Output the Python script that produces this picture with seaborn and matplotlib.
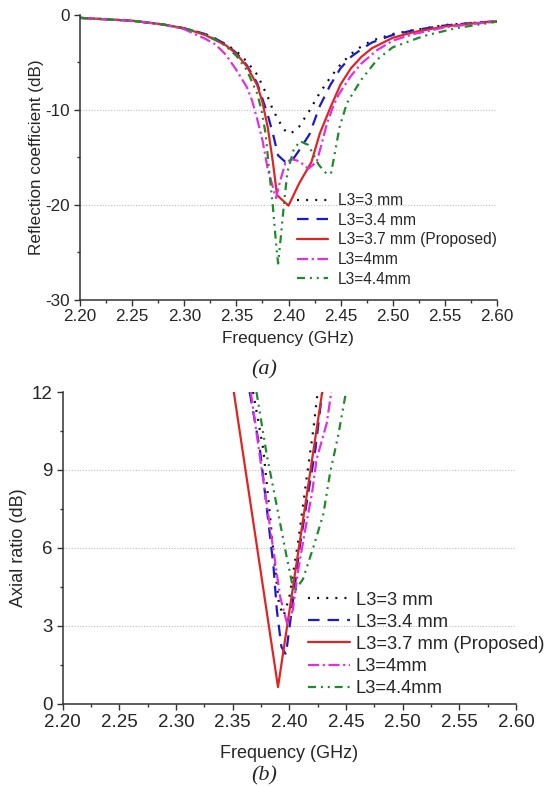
import numpy as np
import pandas as pd
import matplotlib
matplotlib.use("Agg")
import matplotlib.pyplot as plt
from matplotlib.ticker import MultipleLocator, FormatStrFormatter
import seaborn as sns

sns.set_style("ticks")
plt.rcParams['font.family'] = ['Liberation Sans', 'DejaVu Sans']
plt.rcParams['axes.unicode_minus'] = False

# --- (a) reflection coefficient ---
f_s11_3 = [2.20, 2.25, 2.28, 2.30, 2.32, 2.33, 2.34, 2.35, 2.36, 2.37, 2.38, 2.385, 2.39, 2.395, 2.40,
           2.405, 2.41, 2.42, 2.43, 2.44, 2.45, 2.46, 2.47, 2.48, 2.50, 2.52, 2.55, 2.58, 2.60]
s11_3 = [-0.3, -0.6, -1.0, -1.4, -2.0, -2.5, -3.1, -3.8, -4.9, -6.3, -8.6, -10.0, -11.0, -12.0, -12.5,
         -12.3, -11.8, -10.1, -8.2, -6.6, -5.2, -4.1, -3.3, -2.7, -2.0, -1.6, -1.05, -0.8, -0.65]

f_s11_34 = [2.20, 2.25, 2.28, 2.30, 2.32, 2.33, 2.34, 2.35, 2.36, 2.37, 2.38, 2.385, 2.39, 2.397, 2.405,
            2.41, 2.42, 2.43, 2.44, 2.45, 2.46, 2.47, 2.48, 2.50, 2.52, 2.55, 2.58, 2.60]
s11_34 = [-0.3, -0.6, -1.0, -1.4, -2.0, -2.5, -3.1, -4.0, -5.3, -7.2, -10.5, -12.5, -14.8, -15.5, -15.1,
          -14.3, -12.6, -9.6, -7.4, -5.6, -4.4, -3.6, -2.9, -2.1, -1.6, -1.1, -0.8, -0.65]

f_s11_37 = [2.20, 2.25, 2.28, 2.30, 2.32, 2.34, 2.35, 2.36, 2.37, 2.375, 2.38, 2.385, 2.389, 2.40,
            2.41, 2.422, 2.43, 2.44, 2.45, 2.46, 2.47, 2.48, 2.50, 2.52, 2.55, 2.58, 2.60]
s11_37 = [-0.3, -0.6, -1.0, -1.4, -2.1, -3.2, -4.1, -5.4, -7.4, -9.2, -11.8, -15.5, -19.0, -20.1,
          -17.8, -15.5, -12.5, -9.8, -7.3, -5.6, -4.4, -3.5, -2.4, -1.8, -1.2, -0.85, -0.65]

f_s11_4 = [2.20, 2.25, 2.28, 2.30, 2.32, 2.33, 2.34, 2.35, 2.36, 2.365, 2.37, 2.375, 2.38, 2.388, 2.392,
           2.397, 2.403, 2.41, 2.419, 2.427, 2.432, 2.437, 2.443, 2.448, 2.46, 2.47, 2.485, 2.50, 2.52,
           2.55, 2.58, 2.60]
s11_4 = [-0.3, -0.6, -1.0, -1.5, -2.5, -3.1, -4.2, -5.8, -7.6, -9.0, -11.0, -13.2, -16.2, -19.3, -17.5,
         -15.6, -15.2, -15.4, -16.2, -15.5, -13.5, -11.4, -9.6, -8.4, -6.4, -5.1, -3.7, -2.7, -2.0,
         -1.3, -0.9, -0.7]

f_s11_44 = [2.20, 2.25, 2.28, 2.30, 2.32, 2.33, 2.34, 2.35, 2.36, 2.37, 2.374, 2.378, 2.382, 2.385, 2.388,
            2.39, 2.393, 2.396, 2.399, 2.405, 2.411, 2.419, 2.429, 2.437, 2.441, 2.449, 2.456, 2.462,
            2.47, 2.485, 2.50, 2.53, 2.56, 2.60]
s11_44 = [-0.3, -0.6, -1.0, -1.4, -2.0, -2.6, -3.3, -4.3, -5.8, -8.3, -10.0, -12.5, -17.0, -20.2, -24.0,
          -26.2, -23.0, -19.5, -16.5, -14.2, -13.3, -13.7, -15.8, -16.8, -16.6, -11.8, -9.3, -8.2,
          -6.8, -4.7, -3.4, -2.2, -1.4, -0.7]

# --- (b) axial ratio ---
f_ar_3 = [2.368, 2.377, 2.383, 2.387, 2.391, 2.395, 2.40, 2.408, 2.415, 2.421, 2.425]
ar_3 = [12.0, 9.8, 7.2, 5.4, 3.8, 3.4, 4.1, 6.3, 8.6, 10.5, 12.0]

f_ar_34 = [2.365, 2.374, 2.381, 2.386, 2.389, 2.393, 2.397, 2.403, 2.409, 2.417, 2.423, 2.429]
ar_34 = [12.0, 9.8, 7.2, 5.3, 3.6, 2.2, 1.9, 3.9, 6.0, 8.2, 9.8, 12.0]

f_ar_37 = [2.351, 2.390, 2.429]
ar_37 = [12.0, 0.65, 12.0]

f_ar_4 = [2.366, 2.375, 2.386, 2.392, 2.398, 2.403, 2.408, 2.414, 2.42, 2.424, 2.433, 2.437]
ar_4 = [12.0, 9.2, 5.9, 4.1, 3.1, 3.6, 5.2, 6.7, 8.1, 9.4, 10.8, 12.0]

f_ar_44 = [2.371, 2.380, 2.389, 2.397, 2.404, 2.412, 2.421, 2.43, 2.436, 2.443, 2.450]
ar_44 = [12.0, 9.6, 7.6, 5.8, 4.3, 4.8, 6.0, 7.3, 8.9, 10.3, 12.0]

labels = ["L3=3 mm", "L3=3.4 mm", "L3=3.7 mm (Proposed)", "L3=4mm", "L3=4.4mm"]
colors = ["#111111", "#1a1acc", "#e02424", "#e030e0", "#1f8a2a"]
styles = [(0, (0.9, 3.2)), (0, (5.2, 3.6)), "-", (0, (5, 1.6, 1, 1.6)),
          (0, (3.6, 2.2, 0.9, 2.2, 0.9, 2.2))]

top = [(f_s11_3, s11_3), (f_s11_34, s11_34), (f_s11_37, s11_37), (f_s11_4, s11_4), (f_s11_44, s11_44)]
bottom = [(f_ar_3, ar_3), (f_ar_34, ar_34), (f_ar_37, ar_37), (f_ar_4, ar_4), (f_ar_44, ar_44)]

fig = plt.figure(figsize=(5.47, 7.87), dpi=100)
ax1 = fig.add_axes([0.1463, 0.6194, 0.7623, 0.3615])
ax2 = fig.add_axes([0.1146, 0.1055, 0.8287, 0.3964])

for (fx, fy), lab, c, ls in zip(top, labels, colors, styles):
    d = pd.DataFrame({"Frequency": fx, "S11": fy})
    sns.lineplot(data=d, x="Frequency", y="S11", ax=ax1, color=c, linestyle=ls, lw=1.6, label=lab)

for (fx, fy), lab, c, ls in zip(bottom, labels, colors, styles):
    d = pd.DataFrame({"Frequency": fx, "AR": fy})
    sns.lineplot(data=d, x="Frequency", y="AR", ax=ax2, color=c, linestyle=ls, lw=1.6, label=lab)


def style_axis(ax, ylim, ymajor, yminor, fs, grid_at):
    ax.set_xlim(2.20, 2.60)
    ax.set_ylim(*ylim)
    ax.xaxis.set_major_locator(MultipleLocator(0.05))
    ax.xaxis.set_minor_locator(MultipleLocator(0.025))
    ax.xaxis.set_major_formatter(FormatStrFormatter("%.2f"))
    ax.yaxis.set_major_locator(MultipleLocator(ymajor))
    ax.yaxis.set_minor_locator(MultipleLocator(yminor))
    ax.tick_params(which="major", length=4, width=1, labelsize=fs, pad=3, color="#333333")
    ax.tick_params(which="minor", length=2.5, width=1, color="#333333")
    ax.grid(False)
    # dotted grid only on the inner major ticks
    for g in grid_at:
        ax.axhline(g, linestyle=(0, (1, 1.5)), color="#bbbbbb", lw=0.8, zorder=0)
    for s in ["top", "right"]:
        ax.spines[s].set_visible(False)
    for s in ["left", "bottom"]:
        ax.spines[s].set_color("#333333")
        ax.spines[s].set_linewidth(1.1)
    ax.set_xlabel("")
    ax.set_ylabel("")


style_axis(ax1, (-30, 0), 10, 5, 12.3, [-10, -20])
style_axis(ax2, (0, 12), 3, 1.5, 13.5, [3, 6, 9])

ax1.legend(loc="lower left", bbox_to_anchor=(0.52, 0.045), frameon=False, fontsize=11.2,
           borderpad=0, borderaxespad=0, labelspacing=0.30, handlelength=2.0, handletextpad=0.65)
ax2.legend(loc="lower left", bbox_to_anchor=(0.541, 0.022), frameon=False, fontsize=13.2,
           borderpad=0, borderaxespad=0, labelspacing=0.28, handlelength=2.3, handletextpad=0.3)

fig.text(0.0667, 0.8005, "Reflection coefficient (dB)", rotation=90, ha="center", va="center", fontsize=12.3)
fig.text(0.527, 0.5705, "Frequency (GHz)", ha="center", va="center", fontsize=12.3)
fig.text(0.483, 0.5295, "(a)", ha="center", va="center", fontsize=16,
         family=["Liberation Serif", "DejaVu Serif"], style="italic")

fig.text(0.0338, 0.3037, "Axial ratio (dB)", rotation=90, ha="center", va="center", fontsize=13)
fig.text(0.528, 0.0425, "Frequency (GHz)", ha="center", va="center", fontsize=13)
fig.text(0.483, 0.014, "(b)", ha="center", va="center", fontsize=16,
         family=["Liberation Serif", "DejaVu Serif"], style="italic")

fig.savefig("out.png", dpi=100)
